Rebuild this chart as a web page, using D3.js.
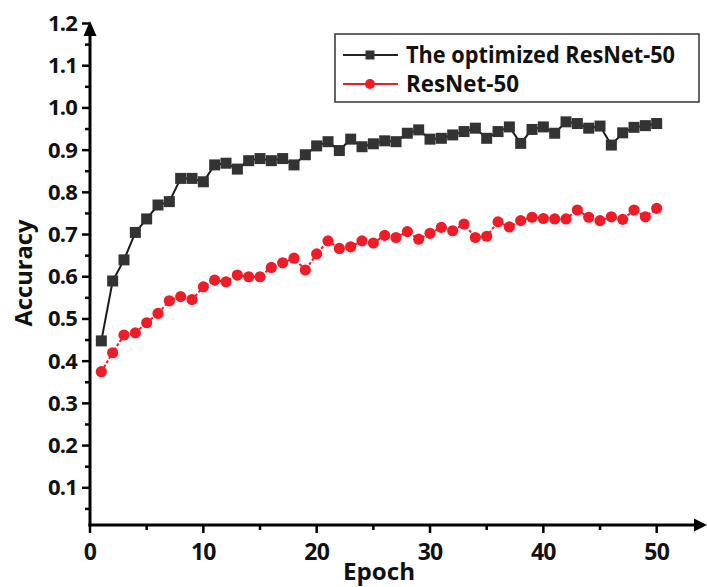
<!DOCTYPE html>
<meta charset="utf-8">
<style>
body { margin: 0; background: #fff; }
text {
  font-family: "Open Sans", "Noto Sans", sans-serif;
  font-weight: 700;
  fill: #111;
}
</style>
<svg></svg>
<script src="https://d3js.org/d3.v7.min.js"></script>
<script>

// epochs 1..50
var epochs = d3.range(1, 51);

// accuracy of the optimized ResNet-50 (black squares)
var optimized = [0.448, 0.590, 0.640, 0.705, 0.737, 0.770, 0.778, 0.833, 0.833, 0.825,
                 0.865, 0.869, 0.855, 0.875, 0.880, 0.875, 0.880, 0.865, 0.889, 0.910,
                 0.920, 0.899, 0.926, 0.908, 0.915, 0.922, 0.920, 0.940, 0.948, 0.926,
                 0.928, 0.936, 0.944, 0.952, 0.928, 0.944, 0.955, 0.916, 0.949, 0.955,
                 0.940, 0.967, 0.963, 0.952, 0.957, 0.912, 0.941, 0.954, 0.958, 0.963];

// accuracy of plain ResNet-50 (red circles)
var resnet = [0.375, 0.420, 0.462, 0.467, 0.491, 0.513, 0.543, 0.553, 0.546, 0.576,
              0.592, 0.588, 0.604, 0.600, 0.600, 0.622, 0.633, 0.644, 0.616, 0.654,
              0.685, 0.667, 0.671, 0.685, 0.680, 0.698, 0.693, 0.707, 0.689, 0.703,
              0.717, 0.709, 0.725, 0.693, 0.696, 0.730, 0.718, 0.733, 0.741, 0.738,
              0.737, 0.737, 0.758, 0.741, 0.733, 0.742, 0.736, 0.758, 0.742, 0.762];

var seriesNames = ["The optimized ResNet-50", "ResNet-50"];
var xTicks = [0, 10, 20, 30, 40, 50];
var yTicks = [0.1, 0.2, 0.3, 0.4, 0.5, 0.6, 0.7, 0.8, 0.9, 1.0, 1.1, 1.2];

var width = 707, height = 587;
var svg = d3.select("svg").attr("width", width).attr("height", height);

var x = d3.scaleLinear().domain([0, 50]).range([90, 656.7]);
var y = d3.scaleLinear().domain([0, 1.2]).range([530, 23.5]);
var baseY = 525;   // x axis sits a hair above zero
var axisX = x(0);

var black = "#333333", red = "#ee1c27";

// ---- axes ----
var ax = svg.append("g");

// y axis line + arrow
ax.append("line")
  .attr("x1", axisX).attr("x2", axisX)
  .attr("y1", baseY + 1.5).attr("y2", 30)
  .attr("stroke", "#000").attr("stroke-width", 3);
ax.append("path")
  .attr("d", "M" + axisX + ",21 L" + (axisX - 6.5) + ",36 L" + (axisX + 6.5) + ",36 Z")
  .attr("fill", "#000");

// x axis line + arrow
ax.append("line")
  .attr("x1", axisX - 1.5).attr("x2", 700)
  .attr("y1", baseY).attr("y2", baseY)
  .attr("stroke", "#000").attr("stroke-width", 3);
ax.append("path")
  .attr("d", "M707," + baseY + " L694," + (baseY - 6.5) + " L694," + (baseY + 6.5) + " Z")
  .attr("fill", "#000");

// y ticks (major + minor)
var yMinor = d3.range(0.05, 1.2, 0.1);
ax.selectAll(".ymaj").data(yTicks).enter().append("line")
  .attr("x1", axisX - 8).attr("x2", axisX)
  .attr("y1", function(d) { return y(d); }).attr("y2", function(d) { return y(d); })
  .attr("stroke", "#000").attr("stroke-width", 2.5);
ax.selectAll(".ymin").data(yMinor).enter().append("line")
  .attr("x1", axisX - 5).attr("x2", axisX)
  .attr("y1", function(d) { return y(d); }).attr("y2", function(d) { return y(d); })
  .attr("stroke", "#000").attr("stroke-width", 2.5);
ax.selectAll(".ylab").data(yTicks).enter().append("text")
  .attr("x", axisX - 13)
  .attr("y", function(d) { return y(d) + 7.5; })
  .attr("text-anchor", "end")
  .attr("font-size", 22)
  .attr("letter-spacing", -0.8)
  .text(d3.format(".1f"));

// x ticks
var xMinor = [5, 15, 25, 35, 45];
ax.selectAll(".xmaj").data(xTicks).enter().append("line")
  .attr("x1", function(d) { return x(d); }).attr("x2", function(d) { return x(d); })
  .attr("y1", baseY).attr("y2", baseY + 8)
  .attr("stroke", "#000").attr("stroke-width", 2.5);
ax.selectAll(".xmin").data(xMinor).enter().append("line")
  .attr("x1", function(d) { return x(d); }).attr("x2", function(d) { return x(d); })
  .attr("y1", baseY).attr("y2", baseY + 5)
  .attr("stroke", "#000").attr("stroke-width", 2.5);
ax.selectAll(".xlab").data(xTicks).enter().append("text")
  .attr("x", function(d) { return x(d); })
  .attr("y", 560)
  .attr("text-anchor", "middle")
  .attr("font-size", 23)
  .attr("letter-spacing", -0.8)
  .text(function(d) { return d; });

// axis titles
svg.append("text")
  .attr("x", 379).attr("y", 580)
  .attr("text-anchor", "middle")
  .attr("font-size", 24)
  .attr("textLength", 72).attr("lengthAdjust", "spacingAndGlyphs")
  .text("Epoch");
svg.append("text")
  .attr("transform", "translate(32,273) rotate(-90)")
  .attr("text-anchor", "middle")
  .attr("font-size", 24)
  .attr("textLength", 107).attr("lengthAdjust", "spacingAndGlyphs")
  .text("Accuracy");

// ---- series ----
var optData = epochs.map(function(e, i) { return { e: e, v: optimized[i] }; });
var resData = epochs.map(function(e, i) { return { e: e, v: resnet[i] }; });

var line = d3.line()
  .x(function(d) { return x(d.e); })
  .y(function(d) { return y(d.v); });

svg.append("path").datum(resData)
  .attr("d", line)
  .attr("fill", "none")
  .attr("stroke", red).attr("stroke-width", 2)
  .attr("stroke-dasharray", "3,2");

svg.append("g").selectAll("circle").data(resData).enter().append("circle")
  .attr("cx", function(d) { return x(d.e); })
  .attr("cy", function(d) { return y(d.v); })
  .attr("r", 5.6)
  .attr("fill", red);

svg.append("path").datum(optData)
  .attr("d", line)
  .attr("fill", "none")
  .attr("stroke", "#1a1a1a").attr("stroke-width", 2);

var sq = 11;
svg.append("g").selectAll("rect").data(optData).enter().append("rect")
  .attr("x", function(d) { return x(d.e) - sq / 2; })
  .attr("y", function(d) { return y(d.v) - sq / 2; })
  .attr("width", sq).attr("height", sq)
  .attr("fill", black);

// ---- legend ----
var lg = svg.append("g");
lg.append("rect")
  .attr("x", 335).attr("y", 34)
  .attr("width", 364).attr("height", 68)
  .attr("fill", "#fff")
  .attr("stroke", "#333").attr("stroke-width", 1.5);

lg.append("line").attr("x1", 343).attr("x2", 398).attr("y1", 55).attr("y2", 55)
  .attr("stroke", "#222").attr("stroke-width", 1.8);
lg.append("rect").attr("x", 365.5).attr("y", 50.5).attr("width", 9).attr("height", 9)
  .attr("fill", black);
lg.append("text").attr("x", 406).attr("y", 63)
  .attr("font-size", 23)
  .attr("textLength", 269).attr("lengthAdjust", "spacingAndGlyphs")
  .text(seriesNames[0]);

lg.append("line").attr("x1", 343).attr("x2", 398).attr("y1", 84).attr("y2", 84)
  .attr("stroke", red).attr("stroke-width", 2);
lg.append("circle").attr("cx", 370).attr("cy", 84).attr("r", 5)
  .attr("fill", red);
lg.append("text").attr("x", 406).attr("y", 92)
  .attr("font-size", 23)
  .attr("textLength", 113).attr("lengthAdjust", "spacingAndGlyphs")
  .text(seriesNames[1]);

</script>
